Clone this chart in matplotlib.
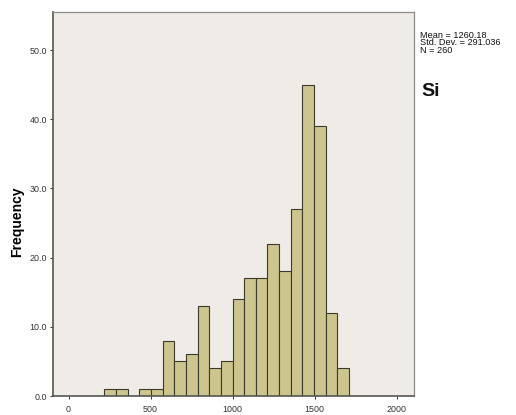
import numpy as np
import matplotlib
matplotlib.use('Agg')
import matplotlib.pyplot as plt

plt.rcParams['font.family'] = ['Liberation Sans', 'DejaVu Sans']

# Histogram of Si: bins
bin_start = 218
bin_width = 71
counts = [1, 1, 0, 1, 1, 8, 5, 6, 13, 4, 5, 14, 17, 17, 22, 18, 27, 45, 39, 12, 4]
x_ticks = [0, 500, 1000, 1500, 2000]
y_ticks = [0, 10, 20, 30, 40, 50]
stats_lines = ["Mean = 1260.18", "Std. Dev. = 291.036", "N = 260"]
var_name = "Si"

edges = bin_start + bin_width * np.arange(len(counts) + 1)

fig = plt.figure(figsize=(5.16, 4.15), dpi=100)
fig.patch.set_facecolor('white')
ax = fig.add_axes([53 / 516, 19 / 415, 361 / 516, 384 / 415])
ax.set_facecolor('#efece8')

ax.bar(edges[:-1], counts, width=bin_width, align='edge',
       color='#cdc58e', edgecolor='#3b3a2c', linewidth=0.8)

ax.set_xlim(-95, 2105)
ax.set_ylim(0, 55.5)
ax.set_xticks(x_ticks)
ax.set_xticklabels([str(t) for t in x_ticks])
ax.set_yticks(y_ticks)
ax.set_yticklabels([f"{t:.1f}" for t in y_ticks])
ax.tick_params(axis='both', labelsize=6.4, colors='#333333', length=2.5, width=0.7, pad=2)
ax.tick_params(axis='x', pad=4)

for side in ['left', 'bottom']:
    ax.spines[side].set_color('#555555')
    ax.spines[side].set_linewidth(1.2)
for side in ['top', 'right']:
    ax.spines[side].set_color('#8a8a8a')
    ax.spines[side].set_linewidth(0.9)

ax.set_ylabel('Frequency', fontsize=10, fontweight='bold')
ax.yaxis.set_label_coords(-0.08, 0.453)

# stats box on the right
for i, line in enumerate(stats_lines):
    fig.text(420 / 516, 1 - (35 + i * 7.6) / 415, line, fontsize=6.6,
             va='center', ha='left', color='#111111')
fig.text(421 / 516, 1 - 92 / 415, var_name, fontsize=14, fontweight='bold',
         va='center', ha='left', color='#111111')

fig.savefig('out.png', dpi=100)
